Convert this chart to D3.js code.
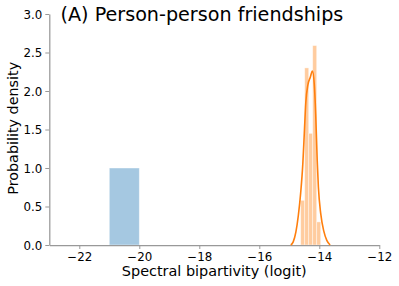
<!DOCTYPE html>
<html>
<head>
<meta charset="utf-8">
<script src="https://cdn.jsdelivr.net/npm/d3@7"></script>
<style>
  body { margin: 0; background: #fff; }
  svg text { font-family: "DejaVu Sans", sans-serif; fill: #000; }
</style>
</head>
<body>
<main></main>
<script>
// データ
const blueBins = [[-21.0, -20.0]];
const blueDensity = [1.0];

const orangeBins = [[-14.62, -14.487], [-14.487, -14.353], [-14.353, -14.22], [-14.22, -14.087], [-14.087, -13.953]];
const orangeDensity = [0.58, 2.30, 1.45, 2.59, 0.30];

// KDE曲線
const kdeX = [-14.95, -14.87, -14.78, -14.70, -14.62, -14.55, -14.50, -14.45, -14.38, -14.30, -14.23,
              -14.17, -14.12, -14.07, -14.03, -13.95, -13.85, -13.75, -13.64];
const kdeY = [0.00, 0.04, 0.17, 0.38, 0.68, 1.05, 1.45, 1.85, 2.08, 2.18, 2.26,
              2.10, 1.70, 1.10, 0.75, 0.40, 0.18, 0.06, 0.00];

const xTicks = [-22, -20, -18, -16, -14, -12];
const yTicks = [0, 0.5, 1.0, 1.5, 2.0, 2.5, 3.0];

const width = 399, height = 286;
const svg = d3.select("main").append("svg")
    .attr("width", width)
    .attr("height", height);

const x = d3.scaleLinear().domain([-23, -12]).range([49.3, 379.3]);
const y = d3.scaleLinear().domain([0, 3]).range([245, 14]);

const fmtMinus = v => (v < 0 ? "\u2212" : "") + Math.abs(v);

// 文字幅を目標に合わせてフォントサイズを調整
function fitText(sel, target) {
    const base = 10;
    sel.style("font-size", base + "px");
    const w = sel.node().getComputedTextLength();
    sel.style("font-size", (base * target / w) + "px");
}

// ヒストグラム
svg.append("g").selectAll("rect")
    .data(blueBins)
    .enter().append("rect")
    .attr("x", d => x(d[0]))
    .attr("width", d => x(d[1]) - x(d[0]))
    .attr("y", (d, i) => y(blueDensity[i]))
    .attr("height", (d, i) => y(0) - y(blueDensity[i]))
    .attr("fill", "#a5c8e1")
    .attr("stroke", "#fff")
    .attr("stroke-opacity", 0.5)
    .attr("stroke-width", 0.8);

svg.append("g").selectAll("rect")
    .data(orangeBins)
    .enter().append("rect")
    .attr("x", d => x(d[0]))
    .attr("width", d => x(d[1]) - x(d[0]))
    .attr("y", (d, i) => y(orangeDensity[i]))
    .attr("height", (d, i) => y(0) - y(orangeDensity[i]))
    .attr("fill", "#ffcc9f")
    .attr("stroke", "#fff")
    .attr("stroke-opacity", 0.5)
    .attr("stroke-width", 0.8);

// 軸
const xAxis = svg.append("g")
    .attr("transform", `translate(0,${y(0)})`)
    .call(d3.axisBottom(x).tickValues(xTicks).tickFormat(fmtMinus).tickSizeInner(4).tickSizeOuter(0).tickPadding(3));
const yAxis = svg.append("g")
    .attr("transform", `translate(${x(-23)},0)`)
    .call(d3.axisLeft(y).tickValues(yTicks).tickFormat(d3.format(".1f")).tickSizeInner(4).tickSizeOuter(0).tickPadding(3));

[xAxis, yAxis].forEach(a => {
    a.select(".domain").attr("stroke", "#999").attr("stroke-width", 1.25);
    a.selectAll(".tick line").attr("stroke", "#999").attr("stroke-width", 1);
});

// 目盛りラベルのサイズ（"−22" が約25px）
const probe = xAxis.select(".tick text");
fitText(probe, 25);
const tickSize = probe.style("font-size");
svg.selectAll(".tick text").style("font-size", tickSize);
xAxis.selectAll(".tick text").attr("dy", null).attr("y", 15.5);
yAxis.selectAll(".tick text").attr("dy", "0.36em");

// KDE線
const line = d3.line()
    .x((d, i) => x(d))
    .y((d, i) => y(kdeY[i]))
    .curve(d3.curveMonotoneX);
svg.append("path")
    .datum(kdeX)
    .attr("d", line)
    .attr("fill", "none")
    .attr("stroke", "#ff7f0e")
    .attr("stroke-width", 1.6);

// ラベル
const xl = svg.append("text")
    .attr("x", 214.3)
    .attr("y", 276)
    .attr("text-anchor", "middle")
    .text("Spectral bipartivity (logit)");
fitText(xl, 185);

const yl = svg.append("text")
    .attr("transform", "translate(17.5,128.3) rotate(-90)")
    .attr("text-anchor", "middle")
    .text("Probability density");
fitText(yl, 133);

const tl = svg.append("text")
    .attr("x", 60.5)
    .attr("y", 20.5)
    .text("(A) Person-person friendships");
fitText(tl, 283);
</script>
</body>
</html>
